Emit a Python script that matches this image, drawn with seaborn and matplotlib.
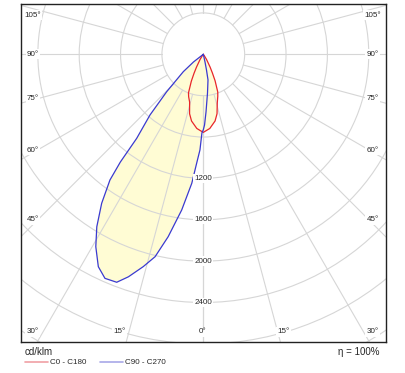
import numpy as np
import pandas as pd
import matplotlib.pyplot as plt
import seaborn as sns
from matplotlib.patches import Circle
from matplotlib.lines import Line2D

# luminous intensity, cd/klm, gamma measured from nadir (deg)
# C90 - C270 plane (blue), C270 half goes to the left
gamma_c270 = [0, 1.0, 2.0, 3.5, 5.1, 7.9, 10.9, 13.4, 15.8, 18.6, 20.8, 23.7, 26.3,
              29.2, 31.7, 34.3, 36.6, 37.6, 38.4, 41.3, 44.4, 49.0, 52.0, 56.0]
i_c270 = [730, 760, 925, 1056, 1252, 1520, 1796, 2012, 2134, 2270, 2358, 2366, 2291,
          2131, 1960, 1744, 1514, 1314, 1037, 781, 506, 256, 120, 0]
gamma_c90 = [0, 1.0, 2.7, 6.2, 10.4, 11.5, 12.5, 16.0]
i_c90 = [730, 684, 558, 376, 252, 154, 76, 0]

# C0 - C180 plane (red)
gamma_c0 = [0, 5, 10, 13, 16, 19, 21, 24, 26, 28, 32, 36, 40]
i_c0 = [755, 720, 655, 590, 490, 430, 390, 280, 200, 140, 60, 15, 0]
gamma_c180 = [0, 5, 10, 13, 16, 19, 21, 24, 26, 28, 32, 36, 40]
i_c180 = [755, 720, 655, 590, 480, 435, 400, 285, 205, 140, 60, 15, 0]

ring_values = [400, 800, 1200, 1600, 2000, 2400, 2800, 3200, 3600, 4000]
ring_labels = [1200, 1600, 2000, 2400]
grid_angles = list(range(0, 181, 15))

side_labels = ['105°', '90°', '75°', '60°', '45°']
bottom_labels = ['30°', '15°', '0°', '15°', '30°']


def to_xy(gamma, inten, side):
    g = np.radians(gamma)
    r = np.array(inten, dtype=float)
    return side * r * np.sin(g), -r * np.cos(g)


sns.set_style('white')
plt.rcParams['font.family'] = ['Liberation Sans', 'DejaVu Sans']

W, H = 405, 373
fig = plt.figure(figsize=(W / 100, H / 100), dpi=100)
ax = fig.add_axes([20.5 / W, 1 - 342 / H, (386 - 20.5) / W, (342 - 4) / H])
ax.set_xlim(-1767.7, 1766.7)
ax.set_ylim(-2782, 486.4)

# curves as closed outlines
x90, y90 = to_xy(gamma_c90[::-1], i_c90[::-1], 1)
x270, y270 = to_xy(gamma_c270, i_c270, -1)
blue = pd.DataFrame({'x': np.r_[x90, x270], 'y': np.r_[y90, y270]})

x0, y0 = to_xy(gamma_c0[::-1], i_c0[::-1], 1)
x180, y180 = to_xy(gamma_c180, i_c180, -1)
red = pd.DataFrame({'x': np.r_[x0, x180], 'y': np.r_[y0, y180]})

fill_col = '#fffcd4'
ax.fill(blue['x'], blue['y'], color=fill_col, lw=0, zorder=1)
ax.fill(red['x'], red['y'], color=fill_col, lw=0, zorder=1)

# grid
gcol = '#d6d6d6'
for rv in ring_values:
    ax.add_patch(Circle((0, 0), rv, fill=False, ec=gcol, lw=0.8, zorder=2))
for a in grid_angles:
    t = np.radians(a)
    for s in (1, -1):
        ax.plot([s * 400 * np.sin(t), s * 4000 * np.sin(t)],
                [-400 * np.cos(t), -4000 * np.cos(t)], color=gcol, lw=0.8, zorder=2)

sns.lineplot(data=red, x='x', y='y', sort=False, estimator=None, color='#e8262a',
             lw=0.9, ax=ax, zorder=4)
sns.lineplot(data=blue, x='x', y='y', sort=False, estimator=None, color='#3a3ad0',
             lw=0.9, ax=ax, zorder=4)

box = dict(boxstyle='square,pad=0.15', fc='white', ec='none')
for v in ring_labels:
    ax.text(0, -v, str(v), ha='center', va='center', fontsize=5.8, bbox=box, zorder=5)

side_y = [0.967, 0.852, 0.719, 0.568, 0.361]
for lab, yy in zip(side_labels, side_y):
    ax.text(0.034, yy, lab, transform=ax.transAxes, ha='center', va='center',
            fontsize=5.8, bbox=box, zorder=5)
    ax.text(0.963, yy, lab, transform=ax.transAxes, ha='center', va='center',
            fontsize=5.8, bbox=box, zorder=5)
bottom_x = [0.033, 0.271, 0.498, 0.720, 0.963]
for lab, xx in zip(bottom_labels, bottom_x):
    ax.text(xx, 0.030, lab, transform=ax.transAxes, ha='center', va='center',
            fontsize=5.8, bbox=box, zorder=5)

ax.set_xticks([])
ax.set_yticks([])
ax.set_xlabel('')
ax.set_ylabel('')
for sp in ax.spines.values():
    sp.set_visible(True)
    sp.set_color('#222222')
    sp.set_linewidth(1.0)

# footer
fig.text(25 / W, 1 - 352 / H, 'cd/klm', fontsize=7, va='center', ha='left')
fig.text(379 / W, 1 - 352 / H, 'η = 100%', fontsize=7, va='center', ha='right')
fig.add_artist(Line2D([25 / W, 48 / W], [1 - 362 / H] * 2, color='#f0a0a4', lw=1.2,
                      transform=fig.transFigure))
fig.add_artist(Line2D([100 / W, 123 / W], [1 - 362 / H] * 2, color='#a8a8e8', lw=1.2,
                      transform=fig.transFigure))
fig.text(50 / W, 1 - 362 / H, 'C0 - C180', fontsize=5.8, va='center', ha='left')
fig.text(125 / W, 1 - 362 / H, 'C90 - C270', fontsize=5.8, va='center', ha='left')

fig.savefig('out.png', dpi=100)
